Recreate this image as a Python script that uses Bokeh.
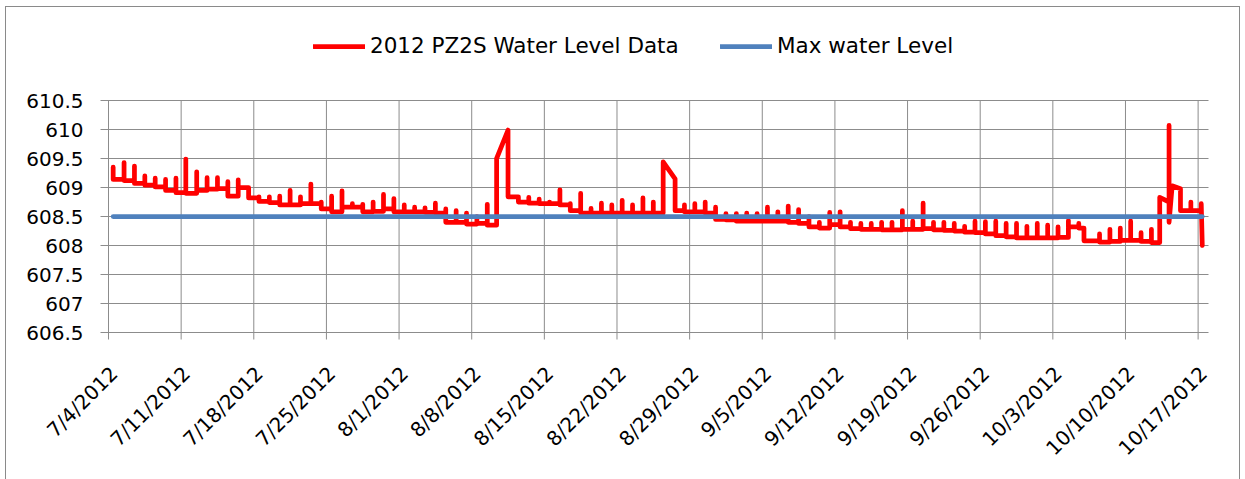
import math
from datetime import date
from bokeh.plotting import figure
from bokeh.models import Range1d, Legend, LegendItem
from bokeh.core.properties import value
from bokeh.embed import file_html
from bokeh.resources import INLINE

# ---------------- data ----------------
start_date = date(2012, 7, 4)
x_tick_labels = ["7/4/2012", "7/11/2012", "7/18/2012", "7/25/2012", "8/1/2012",
                 "8/8/2012", "8/15/2012", "8/22/2012", "8/29/2012", "9/5/2012",
                 "9/12/2012", "9/19/2012", "9/26/2012", "10/3/2012", "10/10/2012",
                 "10/17/2012"]
y_ticks = [606.5, 607, 607.5, 608, 608.5, 609, 609.5, 610, 610.5]
y_tick_labels = ["606.5", "607", "607.5", "608", "608.5", "609", "609.5", "610", "610.5"]

# each reading event: time (days after 7/4/2012), level before (None = previous), peak, level after
event_day = [0.45, 1.5, 2.5, 3.5, 4.5, 5.5, 6.5, 7.45, 8.5, 9.5,
             10.5, 11.5, 12.5, 13.5, 14.5, 15.5, 16.5, 17.5, 18.5, 19.5,
             20.5, 21.5, 22.5, 23.5, 24.5, 25.5, 26.5, 27.5, 28.5, 29.5,
             30.5, 31.5, 32.5, 33.5, 34.5, 35.5, 36.5, 37.4, 38.5, 39.5,
             40.5, 41.5, 42.5, 43.5, 44.5, 45.5, 46.5, 47.5, 48.5, 49.5,
             50.5, 51.5, 52.5, 53.45, 54.6, 55.5, 56.5, 57.5, 58.5, 59.5,
             60.5, 61.5, 62.5, 63.5, 64.5, 65.5, 66.5, 67.5, 68.5, 69.5,
             70.5, 71.5, 72.5, 73.5, 74.5, 75.5, 76.5, 77.5, 78.5, 79.5,
             80.5, 81.5, 82.5, 83.5, 84.5, 85.5, 86.5, 87.5, 88.5, 89.5,
             90.5, 91.5, 92.5, 93.5, 94.0, 95.5, 96.5, 97.5, 98.5, 99.5,
             100.5, 101.3, 102.2, 102.5, 103.3, 104.3, 105.3, 105.4]
level_before = [None] * 38 + [609.99] + [None] * 15 + [609.15] + [None] * 46 + \
               [None, 608.75, 609.03, 608.98, None, None, 608.00]
level_peak = [609.35, 609.43, 609.37, 609.20, 609.16, 609.14, 609.16, 609.49, 609.27, 609.17,
              609.17, 609.10, 609.13, 609.00, 608.84, 608.84, 608.85, 608.95, 608.84, 609.06,
              608.75, 608.85, 608.94, 608.72, 608.71, 608.75, 608.88, 608.81, 608.70, 608.66,
              608.65, 608.73, 608.63, 608.60, 608.56, 608.50, 608.71, 609.50, 609.99, 608.84,
              608.83, 608.80, 608.75, 608.96, 608.72, 608.90, 608.64, 608.73, 608.70, 608.78,
              608.70, 608.82, 608.75, 609.44, 609.15, 608.70, 608.72, 608.75, 608.66, 608.55,
              608.55, 608.56, 608.55, 608.66, 608.58, 608.68, 608.62, 608.50, 608.40, 608.57,
              608.58, 608.40, 608.38, 608.38, 608.40, 608.40, 608.60, 608.42, 608.73, 608.40,
              608.40, 608.38, 608.33, 608.42, 608.41, 608.42, 608.38, 608.38, 608.33, 608.38,
              608.35, 608.32, 608.43, 608.38, 608.30, 608.20, 608.28, 608.30, 608.42, 608.22,
              608.28, 608.83, 610.07, 609.03, 608.98, 608.75, 608.72, 608.00]
level_after = [609.14, 609.12, 609.07, 609.04, 609.01, 608.95, 608.91, 608.90, 608.95, 608.97,
               608.98, 608.85, 609.00, 608.82, 608.76, 608.74, 608.70, 608.70, 608.72, 608.72,
               608.63, 608.58, 608.66, 608.66, 608.58, 608.59, 608.63, 608.58, 608.58, 608.58,
               608.57, 608.56, 608.40, 608.40, 608.37, 608.38, 608.35, 609.50, 608.84, 608.75,
               608.73, 608.72, 608.72, 608.70, 608.60, 608.56, 608.56, 608.56, 608.56, 608.56,
               608.56, 608.56, 608.56, 609.44, 608.60, 608.58, 608.58, 608.56, 608.45, 608.44,
               608.42, 608.42, 608.42, 608.42, 608.42, 608.40, 608.38, 608.32, 608.30, 608.36,
               608.32, 608.29, 608.28, 608.28, 608.27, 608.27, 608.28, 608.28, 608.29, 608.27,
               608.26, 608.25, 608.23, 608.22, 608.20, 608.17, 608.15, 608.13, 608.13, 608.13,
               608.13, 608.14, 608.32, 608.30, 608.08, 608.06, 608.07, 608.09, 608.09, 608.07,
               608.05, 608.83, 608.40, 609.03, 608.60, 608.60, 608.72, 608.00]
max_water_level = 608.5

# ---------------- build path from the readings ----------------
xs, ys = [], []
prev = None
for t, b, pk, a in zip(event_day, level_before, level_peak, level_after):
    b0 = prev if b is None else b
    if b0 is not None:
        xs.append(t); ys.append(b0)
    xs.append(t); ys.append(pk)
    xs.append(t); ys.append(a)
    prev = a


def day_of(s):
    m, d, y = map(int, s.split("/"))
    return (date(y, m, d) - start_date).days


x_ticks = [day_of(s) for s in x_tick_labels]
x_last = x_ticks[-1] + 1          # date axis runs to the day after the last date

FONT = "DejaVu Sans"
GRID = "#8c8c8c"

# ---------------- layout (pixels inside the figure) ----------------
FIG_W, FIG_H = 1233, 472
PLOT_L, PLOT_R = 102, 1202        # value area, left/right
PLOT_T, PLOT_B = 93, 325          # value area, top/bottom
px_per_day = (PLOT_R - PLOT_L) / (x_last - x_ticks[0])
px_per_unit = (PLOT_B - PLOT_T) / (y_ticks[-1] - y_ticks[0])
x_start = x_ticks[0] - PLOT_L / px_per_day
x_end = x_last + (FIG_W - PLOT_R) / px_per_day
y_end = y_ticks[-1] + PLOT_T / px_per_unit
y_start = y_ticks[0] - (FIG_H - PLOT_B) / px_per_unit
TICK = 8

p = figure(frame_width=FIG_W, frame_height=FIG_H, width=FIG_W, height=FIG_H,
           x_range=Range1d(x_start, x_end), y_range=Range1d(y_start, y_end),
           x_axis_location=None, y_axis_location=None,
           output_backend="svg", toolbar_location=None,
           min_border_left=0, min_border_right=0, min_border_top=0, min_border_bottom=0)
p.styles = {"margin-left": "5px", "margin-top": "6px",
            "border-left": "1px solid #8a8a8a", "border-top": "1px solid #8a8a8a",
            "border-right": "1px solid #8a8a8a"}
p.outline_line_color = None
p.background_fill_color = "white"
p.border_fill_color = "white"
p.xgrid.visible = False
p.ygrid.visible = False

# gridlines with their outside tick marks (the 7/4 and 606.5 lines are the axes)
n, m = len(x_ticks), len(y_ticks)
p.segment(x0=x_ticks, y0=[y_ticks[0] - (TICK - 1) / px_per_unit] * n,
          x1=x_ticks, y1=[y_ticks[-1]] * n, line_color=GRID, line_width=1)
p.segment(x0=[x_ticks[0] - TICK / px_per_day] * m, y0=y_ticks,
          x1=[x_last] * m, y1=y_ticks, line_color=GRID, line_width=1)

red = p.line(xs, ys, color="#FF0000", line_width=4.75, line_join="round", line_cap="round")
blue = p.line([event_day[0], event_day[-1]], [max_water_level, max_water_level],
              color="#4F81BD", line_width=4.75, line_cap="round")

# value labels
p.text(x=[x_ticks[0]] * m, y=y_ticks, text=y_tick_labels, text_align="right",
       text_baseline="middle", x_offset=-25, y_offset=0,
       text_font=value(FONT), text_font_size="20px", text_color="#000000")
# rotated date labels
p.text(x=x_ticks, y=[y_ticks[0]] * n, text=x_tick_labels, angle=math.pi / 4,
       text_align="right", text_baseline="top", x_offset=-3, y_offset=29,
       text_font=value(FONT), text_font_size="20px", text_color="#000000")

legend_y = FIG_H - 39 - 12
for label, r, x0 in (("2012 PZ2S Water Level Data", red, 307), ("Max water Level", blue, 714)):
    lg = Legend(items=[LegendItem(label=label, renderers=[r])], location=(x0, legend_y),
                glyph_width=52, glyph_height=24, label_height=24, label_standoff=5,
                padding=0, margin=0,
                border_line_color=None, background_fill_alpha=0,
                label_text_font=FONT, label_text_font_size="21.5px", label_text_color="#000000")
    p.add_layout(lg, "center")

open("out.html", "w").write(file_html(p, INLINE))
